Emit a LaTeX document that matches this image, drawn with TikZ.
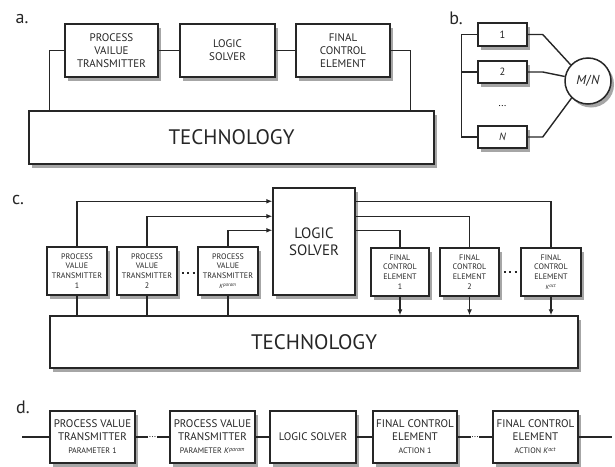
\documentclass[tikz,border=0pt]{standalone}
\usepackage{fontspec}
\setmainfont{PT Sans}
\usetikzlibrary{shadows,arrows.meta}
\begin{document}
\begin{tikzpicture}[x=1pt,y=-1pt,
  box/.style={draw=black!85, fill=white, line width=1.5pt, inner sep=0pt, align=center, text=black!85,
    drop shadow={shadow xshift=3pt, shadow yshift=-3.5pt, fill=black!35, opacity=1}},
  fa/.style={font=\fontsize{11}{13}\selectfont},
  fc/.style={font=\fontsize{8}{9.8}\selectfont},
  fbig/.style={font=\fontsize{21}{24}\selectfont},
  lnk/.style={line width=1.4pt, draw=black!85},
  arr/.style={lnk, -{Latex[length=6pt,width=5pt]}},
  lab/.style={font=\fontsize{18}{20}\selectfont, text=black!85},
  dotsline/.style={line width=2.2pt, draw=black!85, dash pattern=on 2.2pt off 3.2pt},
]
\useasboundingbox (0,0) rectangle (615,466);

% ---------- panel a
\node[lab] (la) at (22,19) {a.};
\node[box,fa,minimum width=93pt,minimum height=53pt] (pva) at (111.5,50.5) {PROCESS\\VAILUE\\TRANSMITTER};
\node[box,fa,minimum width=95pt,minimum height=53pt] (lsa) at (227.5,50.5) {LOGIC\\SOLVER};
\node[box,fa,minimum width=94pt,minimum height=53pt] (fcea) at (343,50.5) {FINAL\\CONTROL\\ELEMENT};
\node[box,fbig,minimum width=405pt,minimum height=53pt] (techa) at (231.5,137.5) {TECHNOLOGY};
\draw[lnk] (pva) -- (lsa);
\draw[lnk] (lsa) -- (fcea);
\draw[lnk] (pva.west) -| ([xshift=21pt]techa.north west);
\draw[lnk] (fcea.east) -| ([xshift=-24pt]techa.north east);

% ---------- panel b
\node[lab] (lb) at (456,18) {b.};
\node[box,font=\fontsize{10.5}{12}\selectfont,minimum width=49pt,minimum height=23pt] (b1) at (502.5,34.5) {1};
\node[box,font=\fontsize{10.5}{12}\selectfont,minimum width=49pt,minimum height=22pt] (b2) at (502.5,72) {2};
\node[box,font=\fontsize{10.5}{12}\selectfont,minimum width=49pt,minimum height=22pt] (bN) at (502.5,137) {\textit{N}};
\node[font=\fontsize{10}{12}\selectfont] (bdots) at (502.5,106) {...};
\node[box,circle,font=\fontsize{13}{15}\selectfont,minimum size=46pt] (mn) at (588,81) {\textit{M}/\textit{N}};
\draw[lnk] (b1.west) -- ++(-16,0) |- (bN.west);
\draw[lnk] (b2.west) -- ++(-16,0);
\draw[lnk] (b1.east) -- ++(15,0) -- (mn.137);
\draw[lnk] (b2.east) -- ++(15,0) -- (mn.169);
\draw[lnk] (bN.east) -- ++(15,0) -- (mn.226);

% ---------- panel c
\node[lab] (lc) at (18,200) {c.};
\node[box,font=\fontsize{15}{17}\selectfont,minimum width=82pt,minimum height=107pt] (lsc) at (314,241.5) {LOGIC\\SOLVER};
\node[box,fc,minimum width=60pt,minimum height=48pt] (pvt1) at (77,271) {PROCESS\\VALUE\\TRANSMITTER\\1};
\node[box,fc,minimum width=60pt,minimum height=48pt] (pvt2) at (147,271) {PROCESS\\VALUE\\TRANSMITTER\\2};
\node[box,fc,minimum width=60pt,minimum height=48pt] (pvtk) at (228,271) {PROCESS\\VALUE\\TRANSMITTER\\{\fontsize{6}{7}\selectfont\textit{K}\textsuperscript{\textit{param}}}};
\node[box,fc,minimum width=58pt,minimum height=48pt] (fce1) at (400,272) {FINAL\\CONTROL\\ELEMENT\\1};
\node[box,fc,minimum width=59pt,minimum height=48pt] (fce2) at (469.5,272) {FINAL\\CONTROL\\ELEMENT\\2};
\node[box,fc,minimum width=60pt,minimum height=48pt] (fcek) at (551,272) {FINAL\\CONTROL\\ELEMENT\\{\fontsize{6}{7}\selectfont\textit{K}\textsuperscript{\textit{act}}}};
\node[box,fbig,minimum width=528pt,minimum height=52pt] (techc) at (314,342) {TECHNOLOGY};
\draw[arr] (pvt1.north) |- ([yshift=-14pt]lsc.north west);
\draw[arr] (pvt2.north) |- ([yshift=-29pt]lsc.north west);
\draw[arr] (pvtk.north) |- ([yshift=-43pt]lsc.north west);
\draw[lnk] ([yshift=-14pt]lsc.north east) -| (fcek.north);
\draw[lnk] ([yshift=-29pt]lsc.north east) -| (fce2.north);
\draw[lnk] ([yshift=-43pt]lsc.north east) -| (fce1.north);
\draw[lnk] (pvt1.south) -- (pvt1.south |- techc.north);
\draw[lnk] (pvt2.south) -- (pvt2.south |- techc.north);
\draw[lnk] (pvtk.south) -- (pvtk.south |- techc.north);
\draw[arr] (fce1.south) -- (fce1.south |- techc.north);
\draw[arr] (fce2.south) -- (fce2.south |- techc.north);
\draw[arr] (fcek.south) -- (fcek.south |- techc.north);
\draw[dotsline] ([xshift=4pt,yshift=-2pt]pvt2.east) -- ([xshift=-2pt,yshift=-2pt]pvtk.west);
\draw[dotsline] ([xshift=4pt,yshift=0pt]fce2.east) -- ([xshift=-2pt,yshift=0pt]fcek.west);

% ---------- panel d
\node[lab] (ld) at (23,407) {d.};
\node[box,fa,minimum width=85pt,minimum height=52pt] (d1) at (92.5,437) {PROCESS VALUE\\TRANSMITTER\\{\fontsize{8}{10}\selectfont PARAMETER 1}};
\node[box,fa,minimum width=85pt,minimum height=52pt] (d2) at (212.5,437) {PROCESS VALUE\\TRANSMITTER\\{\fontsize{8}{10}\selectfont PARAMETER \textit{K}\textsuperscript{\textit{param}}}};
\node[box,fa,minimum width=86pt,minimum height=52pt] (dls) at (313,437) {LOGIC SOLVER};
\node[box,fa,minimum width=84pt,minimum height=52pt] (df1) at (415,437) {FINAL CONTROL\\ELEMENT\\{\fontsize{8}{10}\selectfont ACTION 1}};
\node[box,fa,minimum width=85pt,minimum height=52pt] (dfk) at (535.5,437) {FINAL CONTROL\\ELEMENT\\{\fontsize{8}{10}\selectfont ACTION \textit{K}\textsuperscript{\textit{act}}}};
\coordinate (din) at (22,437);
\coordinate (dout) at (612,437);
\draw[lnk] (din) -- (d1);
\draw[lnk] (d1) -- node[fill=white,inner sep=1pt,font=\fontsize{9}{10}\selectfont] (dd1) {...} (d2);
\draw[lnk] (d2) -- (dls);
\draw[lnk] (dls) -- (df1);
\draw[lnk] (df1) -- node[fill=white,inner sep=1pt,font=\fontsize{9}{10}\selectfont] (dd2) {...} (dfk);
\draw[lnk] (dfk) -- (dout);
\end{tikzpicture}
\end{document}
